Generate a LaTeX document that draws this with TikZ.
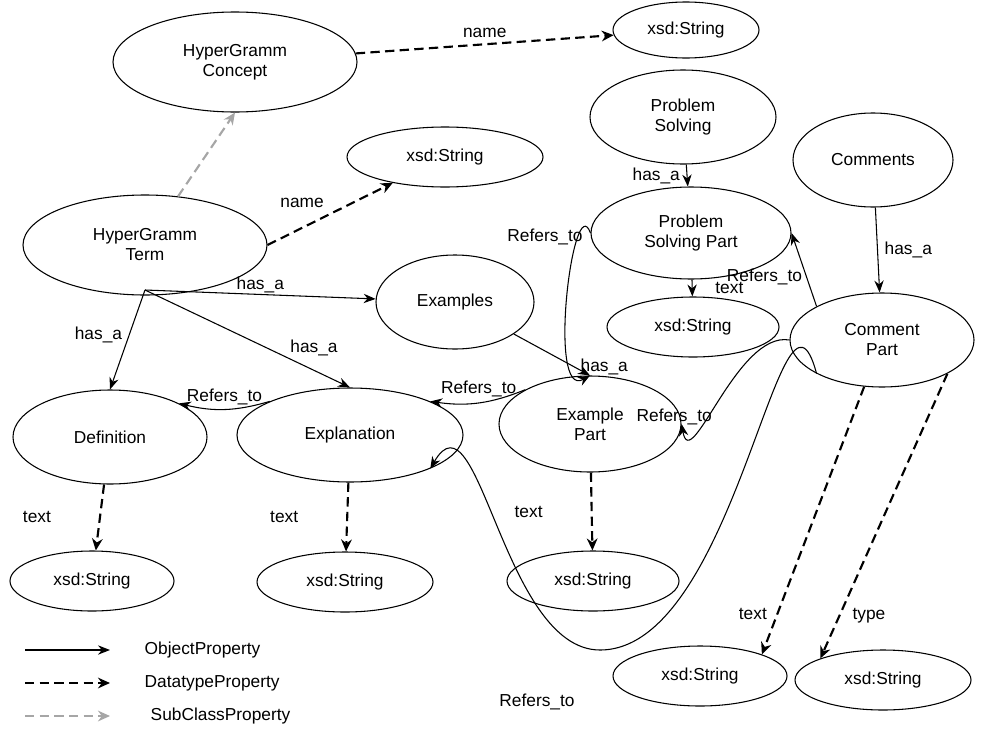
\documentclass[tikz,border=0pt]{standalone}
\usepackage{fontspec}
\setmainfont{Liberation Sans}
\usetikzlibrary{arrows.meta,shapes.geometric}
\begin{document}
\begin{tikzpicture}[x=0.75pt,y=-0.75pt,font=\fontsize{13}{15}\selectfont,
  cls/.style={ellipse,draw,thick,minimum width=#1*0.75pt,align=center,inner sep=0pt},
  obj/.style={thick,-{Stealth[length=9pt,width=7pt]}},
  dat/.style={ultra thick,dash pattern=on 7pt off 4pt,-{Stealth[length=9pt,width=8pt]}},
  sub/.style={ultra thick,gray!70,dash pattern=on 7pt off 4pt,-{Stealth[length=9pt,width=8pt]}},
  lab/.style={inner sep=1pt}]
\useasboundingbox (0,0) rectangle (981,753);
\tikzset{e/.style 2 args={cls=#1,minimum height=#2*0.75pt}}
\node[e={244}{100}] (concept) at (235,62) {HyperGramm\\Concept};
\node[e={146}{56}] (s1) at (686,30) {xsd:String};
\node[e={196}{60}] (s2) at (445,157) {xsd:String};
\node[e={186}{94}] (ps) at (683,117) {Problem\\Solving};
\node[e={160}{94}] (com) at (873,160) {Comments};
\node[e={244}{100}] (term) at (145,245) {HyperGramm\\Term};
\node[e={200}{92}] (psp) at (691,233) {Problem\\Solving Part};
\node[e={158}{94}] (ex) at (455,302) {Examples};
\node[e={172}{60}] (s3) at (693,327) {xsd:String};
\node[e={184}{94}] (cp) at (882,340) {Comment\\Part};
\node[e={194}{94}] (def) at (110,437) {Definition};
\node[e={226}{94}] (expl) at (350,435) {Explanation};
\node[e={182}{96}] (exp) at (590,424) {Example\\Part};
\node[e={164}{60}] (s4) at (92,581) {xsd:String};
\node[e={176}{60}] (s5) at (345,582) {xsd:String};
\node[e={172}{60}] (s6) at (593,581) {xsd:String};
\node[e={174}{60}] (s7) at (700,676) {xsd:String};
\node[e={176}{60}] (s8) at (883,680) {xsd:String};
\coordinate (tb) at (145,290);
\coordinate (low) at (600,650);
\draw[dat] (concept) -- (s1) node[lab,pos=0.5,above=3pt] {name};
\draw[sub] (term) -- (concept.south);
\draw[dat] (term.east) -- (s2) node[lab,midway,above left=3pt] {name};
\draw[obj] (tb) -- (ex) node[lab,pos=0.5,above] {has\_a};
\draw[obj] (tb) -- (def.north) node[lab,pos=0.45,left=4pt] {has\_a};
\draw[obj] (tb) -- (expl.north) node[lab,pos=0.7,above right] {has\_a};
\draw[obj] (expl.north west) to[bend left=15] node[lab,above=2pt] {Refers\_to} (def.north east);
\draw[obj] (exp.north west) to[bend left=15] node[lab,above=3pt] {Refers\_to} (expl.north east);
\draw[obj] (ex) -- (exp.north) node[lab,pos=0.8,right=3pt] {has\_a};
\draw[obj] (psp.west) to[out=110,in=210,looseness=0.9] (exp.north);
\node[lab] (rps) at (545,237) {Refers\_to};
\draw[obj] (ps) -- (psp) node[lab,midway,left=4pt] {has\_a};
\draw[obj] (psp) -- (s3) node[lab,midway,right=16pt] {text};
\draw[obj] (com) -- (cp) node[lab,midway,right=4pt] {has\_a};
\draw[obj] (cp.north west) -- (psp.east) node[lab,pos=0.4,left=2pt] {Refers\_to};
\draw[obj] (cp.west) to[out=170,in=280] node[lab,pos=0.55,below left] {Refers\_to} (exp.east);
\draw[obj] (cp.south west) to[out=105,in=0] (low) to[out=180,in=60] (expl.south east);
\node[lab] (rlow) at (537,702) {Refers\_to};
\draw[dat] (cp) -- (s7.north east) node[lab,pos=0.85,left=6pt] {text};
\draw[dat] (cp.south east) -- (s8.north west) node[lab,pos=0.85,right=8pt] {type};
\draw[dat] (def) -- (s4) node[lab,midway,left=35pt] {text};
\draw[dat] (expl) -- (s5) node[lab,midway,left=35pt] {text};
\draw[dat] (exp) -- (s6) node[lab,midway,left=35pt] {text};
\coordinate (l1a) at (25,650); \coordinate (l1b) at (110,650);
\coordinate (l2a) at (25,683); \coordinate (l2b) at (110,683);
\coordinate (l3a) at (25,716); \coordinate (l3b) at (110,716);
\draw[obj] (l1a) -- (l1b);
\draw[dat] (l2a) -- (l2b);
\draw[sub] (l3a) -- (l3b);
\node[anchor=west] (t1) at (140,650) {ObjectProperty};
\node[anchor=west] (t2) at (140,683) {DatatypeProperty};
\node[anchor=west] (t3) at (146,716) {SubClassProperty};
\end{tikzpicture}
\end{document}
